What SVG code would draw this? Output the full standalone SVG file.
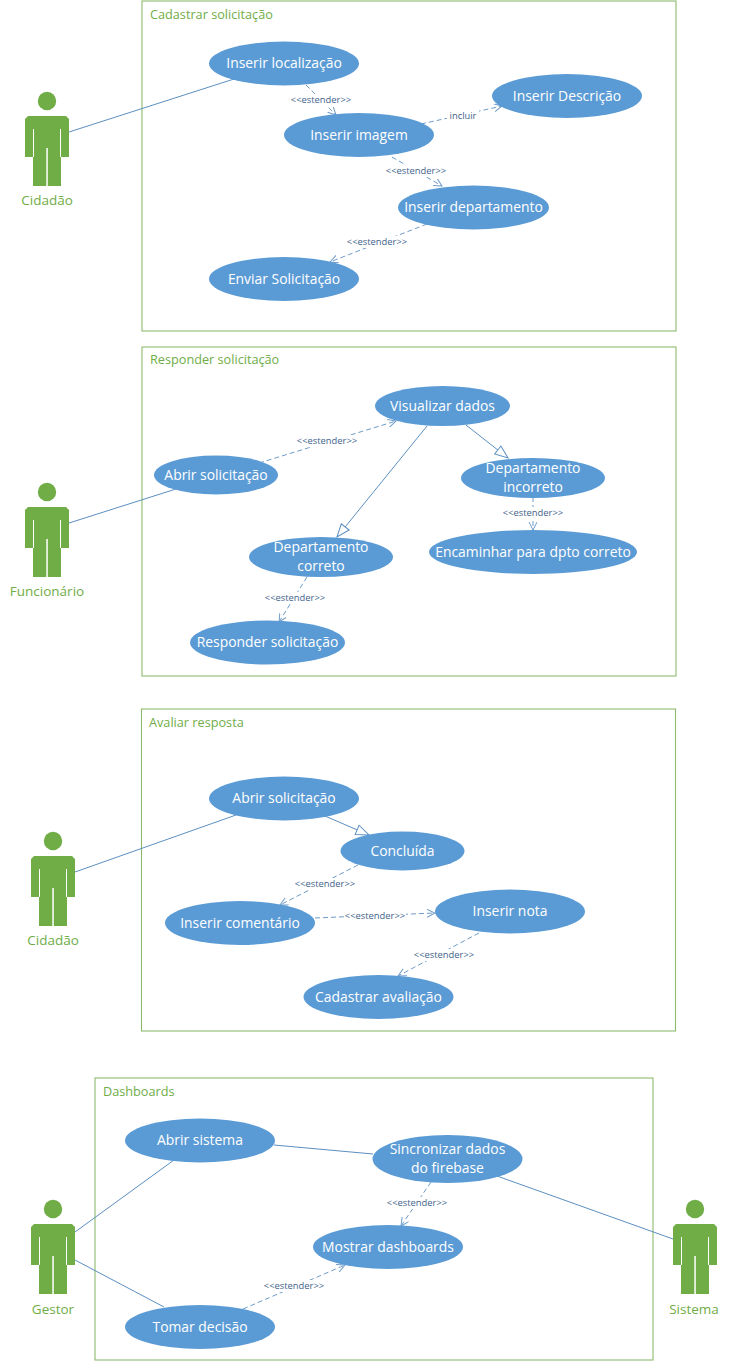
<svg xmlns="http://www.w3.org/2000/svg" width="729" height="1362" viewBox="0 0 729 1362">
<style>
text{font-family:"Open Sans","Liberation Sans",sans-serif}
.box{fill:#fff;stroke:#8dbb6c;stroke-width:1.1}
.title{font-size:12.7px;fill:#70ad47}
.uc{fill:#5b9bd5}
.ut{font-size:13.9px;fill:#fff;text-anchor:middle}
.an{font-size:13.5px;fill:#70ad47;text-anchor:middle}
.actor{fill:#70ad47}
.slit{fill:#fff}
.l{fill:none;stroke:#5b8fc0;stroke-width:1}
.d{fill:none;stroke:#6f9cc8;stroke-width:1;stroke-dasharray:5 3}
.lb{font-size:9.4px;fill:#44648c;text-anchor:middle}
.lbg{fill:#fff}
.tri{fill:#fff;stroke:#5b8fc0;stroke-width:1}
</style>
<defs>
<symbol id="fig" overflow="visible">
<circle class="actor" cx="22" cy="-15" r="9.2"/>
<path class="actor" d="M3 0H41L44 3V41H36V70H8V41H0V3Z"/>
<path class="slit" d="M8 13H9V41H8ZM35 13H36V41H35ZM21.300 32H22.800V70H21.300Z"/>
</symbol>
<marker id="open" markerWidth="9" markerHeight="9" refX="8" refY="4" orient="auto" markerUnits="userSpaceOnUse"><path d="M0 0L8 4L0 8" fill="none" stroke="#6f9cc8"/></marker>
<marker id="tri" markerWidth="16" markerHeight="12" refX="14" refY="6" orient="auto" markerUnits="userSpaceOnUse"><path class="tri" d="M1 1L14 6L1 11Z"/></marker>
</defs>

<g id="boundaries">
<g id="box-cadastrar"><rect class="box" x="142" y="1" width="534" height="330"/><text class="title" x="150" y="19">Cadastrar solicitação</text></g>
<g id="box-responder"><rect class="box" x="142" y="347" width="534" height="329"/><text class="title" x="150" y="364">Responder solicitação</text></g>
<g id="box-avaliar"><rect class="box" x="141.500" y="709" width="534" height="322"/><text class="title" x="149" y="727">Avaliar resposta</text></g>
<g id="box-dashboards"><rect class="box" x="95" y="1078" width="558" height="282"/><text class="title" x="103" y="1096">Dashboards</text></g>
</g>

<g id="connectors">
<path class="l" d="M69 132L234 79"/>
<path class="d" marker-end="url(#open)" d="M306 85L336 115"/>
<path class="d" marker-end="url(#open)" d="M421 124L502 106"/>
<path class="d" marker-end="url(#open)" d="M392 157L442 186"/>
<path class="d" marker-end="url(#open)" d="M427 224L330 262"/>
<path class="l" d="M69 523L176 489"/>
<path class="d" marker-end="url(#open)" d="M259 463L396 421"/>
<path class="l" marker-end="url(#tri)" d="M427 426L337 537"/>
<path class="l" marker-end="url(#tri)" d="M466 425L508 458"/>
<path class="d" marker-end="url(#open)" d="M533 497V530"/>
<path class="d" marker-end="url(#open)" d="M307 577L279 622"/>
<path class="l" d="M75 872L236 815"/>
<path class="l" marker-end="url(#tri)" d="M325 816L369 835"/>
<path class="d" marker-end="url(#open)" d="M358 865L280 905"/>
<path class="d" marker-end="url(#open)" d="M315 918L435 913"/>
<path class="d" marker-end="url(#open)" d="M479 933L398 976"/>
<path class="l" d="M75 1232L174 1160"/>
<path class="l" d="M75 1260L164 1307"/>
<path class="l" d="M274 1145L373 1154"/>
<path class="l" d="M497 1176L673 1239"/>
<path class="d" marker-end="url(#open)" d="M431 1182L401 1226"/>
<path class="d" marker-end="url(#open)" d="M243 1309L345 1265"/>
</g>

<g id="connector-labels">
<rect class="lbg" x="290" y="94" width="62" height="12"/><text class="lb" x="321" y="103">&lt;&lt;estender&gt;&gt;</text>
<rect class="lbg" x="447" y="110" width="32" height="12"/><text class="lb" x="463" y="119">incluir</text>
<rect class="lbg" x="385" y="165" width="62" height="12"/><text class="lb" x="416" y="174">&lt;&lt;estender&gt;&gt;</text>
<rect class="lbg" x="346" y="236" width="62" height="12"/><text class="lb" x="377" y="245">&lt;&lt;estender&gt;&gt;</text>
<rect class="lbg" x="296" y="435" width="62" height="12"/><text class="lb" x="327" y="444">&lt;&lt;estender&gt;&gt;</text>
<rect class="lbg" x="502" y="507" width="62" height="12"/><text class="lb" x="533" y="516">&lt;&lt;estender&gt;&gt;</text>
<rect class="lbg" x="264" y="592" width="62" height="12"/><text class="lb" x="295" y="601">&lt;&lt;estender&gt;&gt;</text>
<rect class="lbg" x="294" y="878" width="62" height="12"/><text class="lb" x="325" y="887">&lt;&lt;estender&gt;&gt;</text>
<rect class="lbg" x="344" y="910" width="62" height="12"/><text class="lb" x="375" y="919">&lt;&lt;estender&gt;&gt;</text>
<rect class="lbg" x="413" y="949" width="62" height="12"/><text class="lb" x="444" y="958">&lt;&lt;estender&gt;&gt;</text>
<rect class="lbg" x="386" y="1197" width="62" height="12"/><text class="lb" x="417" y="1206">&lt;&lt;estender&gt;&gt;</text>
<rect class="lbg" x="263" y="1280" width="62" height="12"/><text class="lb" x="294" y="1289">&lt;&lt;estender&gt;&gt;</text>
</g>

<g id="actor-cidadao1"><use href="#fig" x="25" y="116"/><text class="an" x="47" y="205">Cidadão</text></g>
<g id="actor-funcionario"><use href="#fig" x="25" y="507"/><text class="an" x="47" y="596">Funcionário</text></g>
<g id="actor-cidadao2"><use href="#fig" x="31" y="856"/><text class="an" x="53" y="945">Cidadão</text></g>
<g id="actor-gestor"><use href="#fig" x="31" y="1224"/><text class="an" x="53" y="1314">Gestor</text></g>
<g id="actor-sistema"><use href="#fig" x="673" y="1224"/><text class="an" x="694" y="1314">Sistema</text></g>

<g id="uc-inserir-localizacao"><ellipse class="uc" cx="284" cy="63.500" rx="75" ry="22"/><text class="ut" x="284" y="68">Inserir localização</text></g>
<g id="uc-inserir-imagem"><ellipse class="uc" cx="359" cy="135" rx="75" ry="22"/><text class="ut" x="359" y="140">Inserir imagem</text></g>
<g id="uc-inserir-descricao"><ellipse class="uc" cx="567" cy="96" rx="75" ry="22"/><text class="ut" x="567" y="101">Inserir Descrição</text></g>
<g id="uc-inserir-departamento"><ellipse class="uc" cx="473.500" cy="207.500" rx="75.500" ry="22"/><text class="ut" x="473.500" y="212">Inserir departamento</text></g>
<g id="uc-enviar"><ellipse class="uc" cx="284" cy="279" rx="75" ry="22"/><text class="ut" x="284" y="284">Enviar Solicitação</text></g>

<g id="uc-visualizar"><ellipse class="uc" cx="442.500" cy="406" rx="67.500" ry="20"/><text class="ut" x="442.500" y="411">Visualizar dados</text></g>
<g id="uc-abrir1"><ellipse class="uc" cx="216" cy="475" rx="62" ry="19.500"/><text class="ut" x="216" y="480">Abrir solicitação</text></g>
<g id="uc-incorreto"><ellipse class="uc" cx="533" cy="478" rx="72" ry="20"/><text class="ut" x="533" y="473">Departamento</text><text class="ut" x="533" y="492">incorreto</text></g>
<g id="uc-correto"><ellipse class="uc" cx="321" cy="557" rx="72" ry="20"/><text class="ut" x="321" y="552">Departamento</text><text class="ut" x="321" y="571">correto</text></g>
<g id="uc-encaminhar"><ellipse class="uc" cx="533" cy="552" rx="104" ry="22"/><text class="ut" x="533" y="557">Encaminhar para dpto correto</text></g>
<g id="uc-responder"><ellipse class="uc" cx="267.500" cy="642.500" rx="77.500" ry="22"/><text class="ut" x="267.500" y="647">Responder solicitação</text></g>

<g id="uc-abrir2"><ellipse class="uc" cx="284" cy="798.500" rx="75" ry="22"/><text class="ut" x="284" y="803">Abrir solicitação</text></g>
<g id="uc-concluida"><ellipse class="uc" cx="402.500" cy="851" rx="62" ry="19.500"/><text class="ut" x="402.500" y="856">Concluída</text></g>
<g id="uc-comentario"><ellipse class="uc" cx="240" cy="923" rx="75" ry="22"/><text class="ut" x="240" y="928">Inserir comentário</text></g>
<g id="uc-nota"><ellipse class="uc" cx="510" cy="911.500" rx="75" ry="22"/><text class="ut" x="510" y="916">Inserir nota</text></g>
<g id="uc-cadastrar-av"><ellipse class="uc" cx="378.500" cy="997" rx="75" ry="22"/><text class="ut" x="378.500" y="1002">Cadastrar avaliação</text></g>

<g id="uc-abrir-sistema"><ellipse class="uc" cx="200" cy="1140.500" rx="75" ry="22"/><text class="ut" x="200" y="1145">Abrir sistema</text></g>
<g id="uc-sincronizar"><ellipse class="uc" cx="447.500" cy="1159" rx="75" ry="24"/><text class="ut" x="447.500" y="1154">Sincronizar dados</text><text class="ut" x="447.500" y="1173">do firebase</text></g>
<g id="uc-mostrar"><ellipse class="uc" cx="388" cy="1247" rx="75" ry="22"/><text class="ut" x="388" y="1252">Mostrar dashboards</text></g>
<g id="uc-tomar"><ellipse class="uc" cx="200" cy="1327" rx="75" ry="22"/><text class="ut" x="200" y="1332">Tomar decisão</text></g>
</svg>
